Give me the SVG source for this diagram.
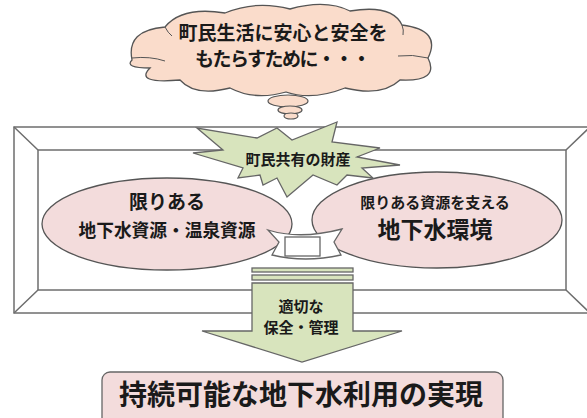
<svg xmlns="http://www.w3.org/2000/svg" width="587" height="418" viewBox="0 0 587 418">
<style>
  .ln { stroke:#6e6e6e; stroke-width:1.5; fill:none; }
  .t { font-family:"Noto Sans CJK JP","Noto Sans",sans-serif; font-weight:bold; fill:#1a1a1a; text-anchor:middle; }
  .pink { fill:#f3dcdc; stroke:#555; stroke-width:1.3; }
  .green { fill:#d8e4bd; stroke:#666; stroke-width:1.3; }
  .white { fill:#fff; stroke:#666; stroke-width:1.3; }
  .bub { fill:#fadccb; stroke:#555; stroke-width:1.2; }
</style>
<rect width="587" height="418" fill="#fff"/>

<g id="frame">
  <rect x="14" y="127" width="576" height="186" fill="#fff" stroke="#6e6e6e" stroke-width="1.5"/>
  <rect x="38" y="150" width="528" height="140" fill="#fff" stroke="#6e6e6e" stroke-width="1.5"/>
  <path class="ln" d="M14,127 L38,150 M590,127 L566,150 M14,313 L38,290 M590,313 L566,290"/>
</g>

<g id="cloud">
  <path fill="#fadccb" stroke="#555" stroke-width="1.3" d="M132,60 Q126,30 165,27 Q182,6 225,13 Q256,0 290,9 Q326,-1 350,11 Q392,4 402,25 Q442,30 428,58 Q440,82 400,80 Q382,97 345,88 Q312,101 286,92 Q255,101 230,88 Q195,97 180,80 Q134,84 150,68 Q124,68 132,60 Z"/>
  <path fill="none" stroke="#555" stroke-width="1" d="M132,58 Q150,56 165,61 M398,56 Q412,54 428,58 M165,27 Q168,33 172,36 M402,25 Q404,30 403,35"/>
  <text class="t" x="283" y="40" font-size="19">町民生活に安心と安全を</text>
  <text class="t" x="283" y="66" font-size="19" textLength="176" lengthAdjust="spacing">もたらすために・・・</text>
  <ellipse class="bub" cx="288" cy="101" rx="20" ry="6"/>
  <ellipse class="bub" cx="290" cy="110" rx="12" ry="4"/>
  <ellipse class="bub" cx="291" cy="116" rx="7" ry="3"/>
</g>

<g id="left-resource">
  <ellipse class="pink" cx="167" cy="224" rx="125" ry="46"/>
  <text class="t" x="167" y="209" font-size="19">限りある</text>
  <text class="t" x="167" y="237" font-size="18" textLength="177" lengthAdjust="spacingAndGlyphs">地下水資源・温泉資源</text>
</g>

<g id="right-environment">
  <ellipse class="pink" cx="437" cy="220" rx="125" ry="48"/>
  <text class="t" x="435" y="208" font-size="15">限りある資源を支える</text>
  <text class="t" x="435" y="238" font-size="23">地下水環境</text>
</g>

<g id="connectors">
  <path class="white" d="M268,230 Q300,240 342,229 L334,242 L341,255 Q305,263 272,255 L279,242 Z"/>
  <rect class="white" x="285" y="237" width="35" height="19"/>
</g>

<g id="common-property">
  <polygon class="green" points="337,122 332,142 380,148 357,157 400,165 362,168 373,178 347,175 337,185 313,175 287,197 277,178 263,185 260,175 238,178 243,168 193,153 223,150 197,128 257,138 277,128 292,140"/>
  <text class="t" x="298" y="165" font-size="15">町民共有の財産</text>
</g>

<g id="management">
  <rect class="green" x="252" y="268" width="101" height="4"/>
  <rect class="green" x="252" y="275" width="101" height="5"/>
  <path class="green" d="M252,283 L353,283 L353,331 L402,331 L302,362 L202,331 L252,331 Z"/>
  <text class="t" x="301" y="312" font-size="15">適切な</text>
  <text class="t" x="301" y="333" font-size="15">保全・管理</text>
</g>

<g id="goal">
  <rect x="102" y="372" width="401" height="60" rx="8" fill="#f3dcdc" stroke="#666" stroke-width="1.3"/>
  <text class="t" x="301" y="405" font-size="28">持続可能な地下水利用の実現</text>
</g>
</svg>
